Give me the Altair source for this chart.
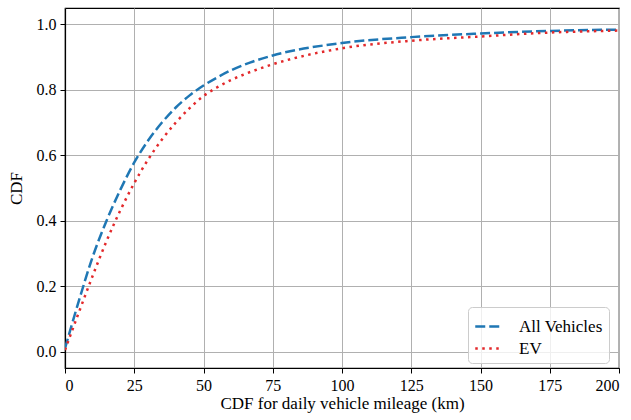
import altair as alt
import pandas as pd

x_all = [0, 5, 10, 15, 20, 25, 30, 35, 40, 45, 50, 55, 60, 67, 75, 100, 125, 150, 175, 200]
cdf_all = [0.01, 0.155, 0.29, 0.40, 0.495, 0.578, 0.645, 0.70, 0.746, 0.783, 0.813,
           0.838, 0.86, 0.884, 0.905, 0.943, 0.961, 0.972, 0.980, 0.984]
x_ev = [0, 5, 10, 15, 20, 25, 30, 35, 40, 45, 50, 55, 60, 70, 75, 100, 125, 150, 175, 200]
cdf_ev = [0.005, 0.12, 0.232, 0.338, 0.432, 0.515, 0.587, 0.648, 0.70, 0.744, 0.781,
          0.808, 0.83, 0.864, 0.878, 0.927, 0.950, 0.963, 0.975, 0.981]
series = ["All Vehicles", "EV"]
colors = ["#1f77b4", "#e3292b"]
x_ticks = [0, 25, 50, 75, 100, 125, 150, 175, 200]
y_ticks = [0.0, 0.2, 0.4, 0.6, 0.8, 1.0]

df = pd.concat([
    pd.DataFrame({"x": x_all, "y": cdf_all, "s": series[0]}),
    pd.DataFrame({"x": x_ev, "y": cdf_ev, "s": series[1]}),
])

FONT = "Liberation Serif"

legend = alt.Legend(title=None, orient="none", legendX=403, legendY=299)

chart = alt.Chart(df).mark_line(strokeWidth=2.5, interpolate="monotone", clip=True).encode(
    x=alt.X("x:Q", scale=alt.Scale(domain=[0, 200], nice=False, zero=False),
            axis=alt.Axis(values=x_ticks, title="CDF for daily vehicle mileage (km)", format="d")),
    y=alt.Y("y:Q", scale=alt.Scale(domain=[-0.05, 1.05], nice=False, zero=False),
            axis=alt.Axis(values=y_ticks, title="CDF", format=".1f")),
    color=alt.Color("s:N", scale=alt.Scale(domain=series, range=colors), legend=legend),
    strokeDash=alt.StrokeDash("s:N", scale=alt.Scale(domain=series, range=[[10, 4], [2.5, 4.5]]),
                              legend=legend),
).properties(
    width=554, height=360,
    autosize=alt.AutoSizeParams(type="none"),
    padding={"left": 65, "top": 8, "right": 12, "bottom": 52},
).configure(
    font=FONT
).configure_view(
    stroke="black", strokeWidth=1.2
).configure_axis(
    labelFont=FONT, titleFont=FONT, labelFontSize=16, titleFontSize=17,
    titleFontWeight="normal", labelColor="black", titleColor="black",
    domainColor="black", tickColor="black", tickSize=5, domainWidth=1.2,
    gridColor="#b0b0b0", gridWidth=1, labelPadding=4,
).configure_axisX(
    titlePadding=2,
).configure_axisY(
    titlePadding=11,
).configure_legend(
    labelFont=FONT, labelFontSize=17, labelColor="black",
    symbolType="stroke", symbolSize=600, symbolStrokeWidth=2.5,
    strokeColor="#cccccc", fillColor="rgba(255,255,255,0.8)", cornerRadius=4,
    padding=6, rowPadding=0, labelOffset=18,
)

chart.save("out.html", embed_options={"renderer": "svg", "actions": False})
